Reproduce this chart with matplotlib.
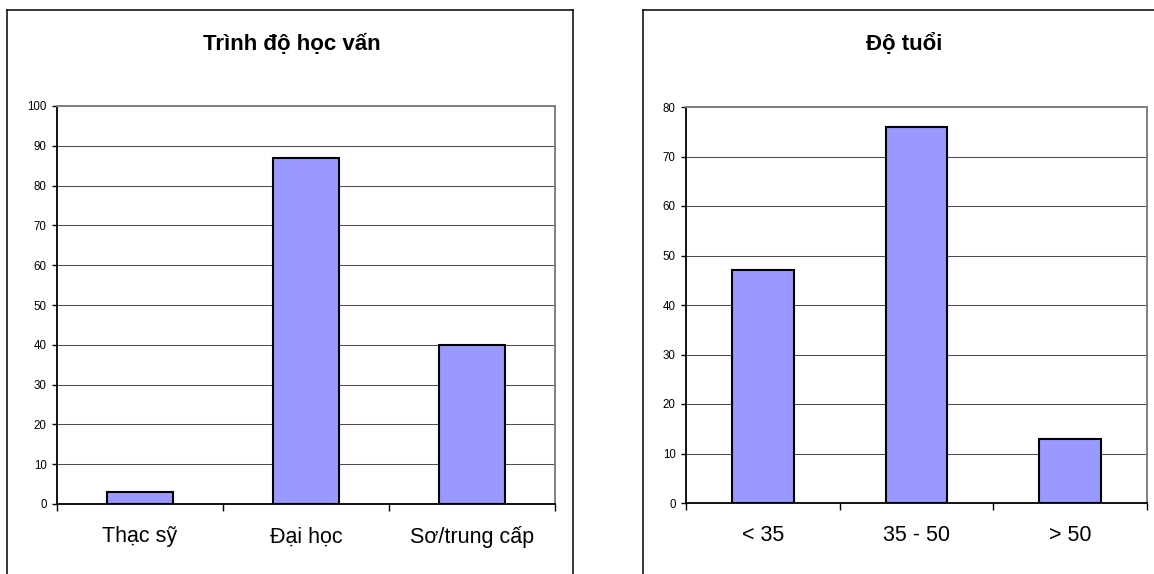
import matplotlib
matplotlib.use("Agg")
import matplotlib.pyplot as plt
from matplotlib.lines import Line2D
from matplotlib.ticker import MultipleLocator, FixedLocator

plt.rcParams["font.family"] = ["Liberation Sans", "DejaVu Sans"]

# Education level
edu_title = "Trình độ học vấn"
edu_categories = ["Thạc sỹ", "Đại học", "Sơ/trung cấp"]
edu_values = [3, 87, 40]
edu_ymax = 100

# Age groups
age_title = "Độ tuổi"
age_categories = ["< 35", "35 - 50", "> 50"]
age_values = [47, 76, 13]
age_ymax = 80

W, H = 1154, 574
BAR_COLOR = "#9999FF"
GRID_COLOR = "#4d4d4d"
FRAME_GRAY = "#808080"

fig = plt.figure(figsize=(W / 100, H / 100), dpi=100)
fig.patch.set_facecolor("white")


def px_rect(x0, y_top, x1, y_bottom):
    """Pixel box (origin top-left) -> figure-fraction rect."""
    return [x0 / W, (H - y_bottom) / H, (x1 - x0) / W, (y_bottom - y_top) / H]


def fig_line(xs, ys, **kw):
    fig.add_artist(Line2D([x / W for x in xs], [(H - y) / H for y in ys],
                          transform=fig.transFigure, **kw))


def bar_panel(rect, categories, values, ymax, title, title_x):
    ax = fig.add_axes(rect)
    x = list(range(len(categories)))
    ax.bar(x, values, width=0.4, color=BAR_COLOR, edgecolor="black",
           linewidth=1.5, zorder=3)
    ax.set_xlim(-0.5, len(categories) - 0.5)
    ax.set_ylim(0, ymax)
    ax.yaxis.set_major_locator(MultipleLocator(10))
    ax.grid(axis="y", color=GRID_COLOR, linewidth=0.75, zorder=0)
    ax.set_axisbelow(True)

    ax.set_xticks(x)
    ax.set_xticklabels(categories, fontsize=15.5)
    ax.xaxis.set_minor_locator(FixedLocator([i - 0.5 for i in range(len(categories) + 1)]))
    ax.tick_params(axis="x", which="major", length=0, pad=16)
    ax.tick_params(axis="x", which="minor", length=5, width=1.0, direction="out", color="black")
    ax.tick_params(axis="y", which="major", length=3.5, width=1.0, direction="out",
                   labelsize=8.3, pad=4, color="black")

    for side in ("left", "bottom"):
        ax.spines[side].set_color("black")
        ax.spines[side].set_linewidth(1.3)
    for side in ("top", "right"):
        ax.spines[side].set_color(FRAME_GRAY)
        ax.spines[side].set_linewidth(1.4)

    fig.text(title_x / W, (H - 50) / H, title, ha="center", va="baseline",
             fontsize=16, fontweight="bold")
    return ax


bar_panel(px_rect(57, 106, 555, 504), edu_categories, edu_values, edu_ymax,
          edu_title, 292)
bar_panel(px_rect(686, 107, 1147, 503), age_categories, age_values, age_ymax,
          age_title, 904)

# Chart-area frames
frame_kw = dict(color="black", linewidth=1.1)
fig_line([7, 573], [10, 10], **frame_kw)
fig_line([7, 7], [10, H + 2], **frame_kw)
fig_line([573, 573], [10, H + 2], **frame_kw)
fig_line([643, W + 2], [10, 10], **frame_kw)
fig_line([643, 643], [10, H + 2], **frame_kw)

fig.savefig("out.png", dpi=100, facecolor="white")
